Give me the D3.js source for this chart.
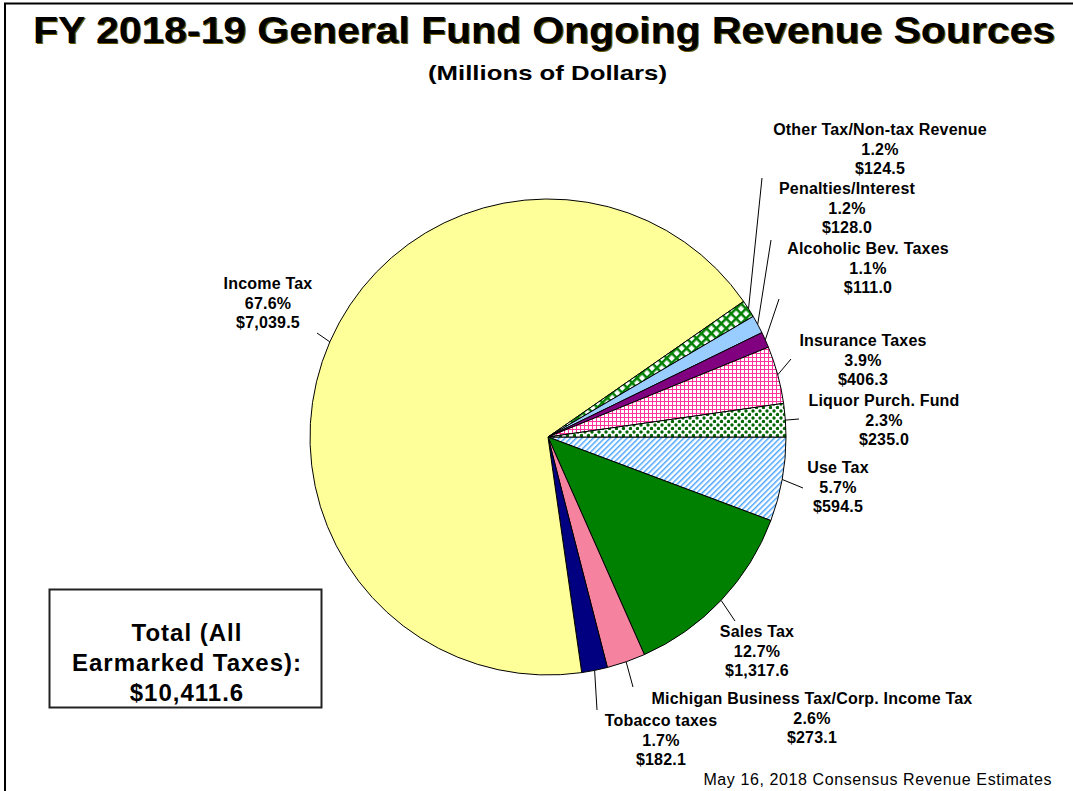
<!DOCTYPE html>
<html>
<head>
<meta charset="utf-8">
<script src="https://cdn.jsdelivr.net/npm/d3@7"></script>
<style>
  body { margin: 0; background: #fff; }
  svg { display: block; font-family: Arial, "Liberation Sans", sans-serif; }
</style>
</head>
<body>
<div class="chart"></div>
<script>
// Dimensions
const width = 1073;
const height = 791;
const cx = 548, cy = 437, radius = 238;

// Data (millions of dollars), in drawing order starting at 3 o'clock, clockwise
const categories = [
  'Use Tax', 'Sales Tax', 'Michigan Business Tax/Corp. Income Tax', 'Tobacco taxes',
  'Income Tax', 'Other Tax/Non-tax Revenue', 'Penalties/Interest',
  'Alcoholic Bev. Taxes', 'Insurance Taxes', 'Liquor Purch. Fund'
];
const amounts = [594.5, 1317.6, 273.1, 182.1, 7039.5, 124.5, 128.0, 111.0, 406.3, 235.0];
const totalLabel = ['Total (All', 'Earmarked Taxes):', '$10,411.6'];

// Fill per slice (colour or pattern id)
const fills = {
  'Use Tax': 'url(#pUse)',
  'Sales Tax': '#008000',
  'Michigan Business Tax/Corp. Income Tax': '#f5829f',
  'Tobacco taxes': '#000080',
  'Income Tax': '#ffff99',
  'Other Tax/Non-tax Revenue': 'url(#pOther)',
  'Penalties/Interest': '#99ccff',
  'Alcoholic Bev. Taxes': '#800080',
  'Insurance Taxes': 'url(#pIns)',
  'Liquor Purch. Fund': 'url(#pLiquor)'
};

// Label placement: text centre (x, y of first line) and leader end (lx, ly)
const labelLayout = {
  'Use Tax': { x: 838, y: 467, lx: 803, ly: 488 },
  'Sales Tax': { x: 757, y: 631, lx: 735, ly: 621 },
  'Michigan Business Tax/Corp. Income Tax': { x: 812, y: 698, lx: 633, ly: 687 },
  'Tobacco taxes': { x: 661, y: 720, lx: 597, ly: 710 },
  'Income Tax': { x: 268, y: 283, lx: 317, ly: 333 },
  'Other Tax/Non-tax Revenue': { x: 880, y: 129, lx: 762, ly: 178 },
  'Penalties/Interest': { x: 847, y: 188, lx: 771, ly: 240 },
  'Alcoholic Bev. Taxes': { x: 868, y: 248, lx: 779, ly: 299 },
  'Insurance Taxes': { x: 863, y: 340, lx: 791, ly: 359 },
  'Liquor Purch. Fund': { x: 884, y: 400, lx: 799, ly: 419 }
};

const data = categories.map((c, i) => ({ name: c, value: amounts[i] }));
const total = d3.sum(amounts);

const svg = d3.select('.chart')
  .append('svg')
  .attr('width', width)
  .attr('height', height);

// Patterns
const defs = svg.append('defs');

const pOther = defs.append('pattern')
  .attr('id', 'pOther').attr('patternUnits', 'userSpaceOnUse')
  .attr('width', 7).attr('height', 7)
  .attr('patternTransform', 'rotate(45)');
pOther.append('rect').attr('width', 7).attr('height', 7).attr('fill', '#008000');
pOther.append('rect').attr('x', 1.5).attr('y', 1.5).attr('width', 4.5).attr('height', 4.5).attr('fill', '#fff');

const pIns = defs.append('pattern')
  .attr('id', 'pIns').attr('patternUnits', 'userSpaceOnUse')
  .attr('width', 4).attr('height', 4);
pIns.append('rect').attr('width', 4).attr('height', 4).attr('fill', '#fff');
pIns.append('rect').attr('width', 4).attr('height', 1).attr('fill', '#ff3399');
pIns.append('rect').attr('width', 1).attr('height', 4).attr('fill', '#ff3399');

const pLiquor = defs.append('pattern')
  .attr('id', 'pLiquor').attr('patternUnits', 'userSpaceOnUse')
  .attr('width', 7).attr('height', 7);
pLiquor.append('rect').attr('width', 7).attr('height', 7).attr('fill', '#fff');
pLiquor.append('circle').attr('cx', 2).attr('cy', 2).attr('r', 1.7).attr('fill', '#006600');
pLiquor.append('circle').attr('cx', 5.5).attr('cy', 5.5).attr('r', 1.7).attr('fill', '#006600');

const pUse = defs.append('pattern')
  .attr('id', 'pUse').attr('patternUnits', 'userSpaceOnUse')
  .attr('width', 4).attr('height', 4)
  .attr('patternTransform', 'rotate(45)');
pUse.append('rect').attr('width', 4).attr('height', 4).attr('fill', '#fff');
pUse.append('rect').attr('width', 1.5).attr('height', 4).attr('fill', '#4da6ff');

// Frame
svg.append('line').attr('x1', 4).attr('x2', width).attr('y1', 3.5).attr('y2', 3.5)
  .attr('stroke', '#000').attr('stroke-width', 2);
svg.append('line').attr('x1', 5).attr('x2', 5).attr('y1', 3).attr('y2', height)
  .attr('stroke', '#000').attr('stroke-width', 2);

// Title with shadow
const titleText = 'FY 2018-19 General Fund Ongoing Revenue Sources';
[['#6b5a00', 1.2], ['#000', 0]].forEach(([col, off]) => {
  svg.append('text')
    .attr('x', 33 + off).attr('y', 43 + off)
    .attr('textLength', 1022).attr('lengthAdjust', 'spacingAndGlyphs')
    .style('font-size', '37px').style('font-weight', 'bold')
    .attr('fill', col)
    .text(titleText);
});
svg.append('text')
  .attr('x', 428).attr('y', 80)
  .attr('textLength', 239).attr('lengthAdjust', 'spacingAndGlyphs')
  .style('font-size', '21px').style('font-weight', 'bold')
  .text('(Millions of Dollars)');

// Pie
const pie = d3.pie().sort(null).value(d => d.value)
  .startAngle(Math.PI / 2).endAngle(Math.PI / 2 + 2 * Math.PI);
const arc = d3.arc().innerRadius(0).outerRadius(radius);
const arcs = pie(data);

const g = svg.append('g').attr('transform', `translate(${cx},${cy})`);
g.selectAll('path')
  .data(arcs)
  .join('path')
    .attr('d', arc)
    .attr('fill', d => fills[d.data.name])
    .attr('stroke', '#000')
    .attr('stroke-width', 1);

// Leader lines
const edgePoint = d => {
  const a = (d.startAngle + d.endAngle) / 2;
  return [cx + Math.sin(a) * radius, cy - Math.cos(a) * radius];
};
svg.append('g')
  .selectAll('line')
  .data(arcs)
  .join('line')
    .attr('x1', d => edgePoint(d)[0])
    .attr('y1', d => edgePoint(d)[1])
    .attr('x2', d => labelLayout[d.data.name].lx)
    .attr('y2', d => labelLayout[d.data.name].ly)
    .attr('stroke', '#000')
    .attr('stroke-width', 1);

// Labels
const fmtPct = d3.format('.1%');
const fmtVal = d3.format('$,.1f');
const labels = svg.append('g')
  .attr('text-anchor', 'middle')
  .style('font-size', '16px')
  .style('font-weight', 'bold')
  .style('letter-spacing', '0.2px');
labels.selectAll('text')
  .data(arcs)
  .join('text')
    .attr('x', d => labelLayout[d.data.name].x)
    .attr('y', d => labelLayout[d.data.name].y + 6)
    .each(function (d) {
      const t = d3.select(this);
      const L = labelLayout[d.data.name];
      [d.data.name, fmtPct(d.data.value / total), fmtVal(d.data.value)].forEach((s, i) => {
        t.append('tspan').attr('x', L.x).attr('dy', i === 0 ? 0 : 19.5).text(s);
      });
    });

// Total box
svg.append('rect')
  .attr('x', 49.5).attr('y', 589.5).attr('width', 272).attr('height', 118)
  .attr('fill', '#fff').attr('stroke', '#222').attr('stroke-width', 2);
svg.append('text')
  .attr('text-anchor', 'middle')
  .style('font-size', '24px').style('font-weight', 'bold')
  .style('letter-spacing', '1px')
  .selectAll('tspan')
  .data(totalLabel)
  .join('tspan')
    .attr('x', 187)
    .attr('y', (d, i) => 641 + i * 30)
    .text(d => d);

// Footer
svg.append('text')
  .attr('x', 1052).attr('y', 785)
  .attr('text-anchor', 'end')
  .style('font-size', '16px')
  .style('letter-spacing', '0.6px')
  .text('May 16, 2018 Consensus Revenue Estimates');
</script>
</body>
</html>
